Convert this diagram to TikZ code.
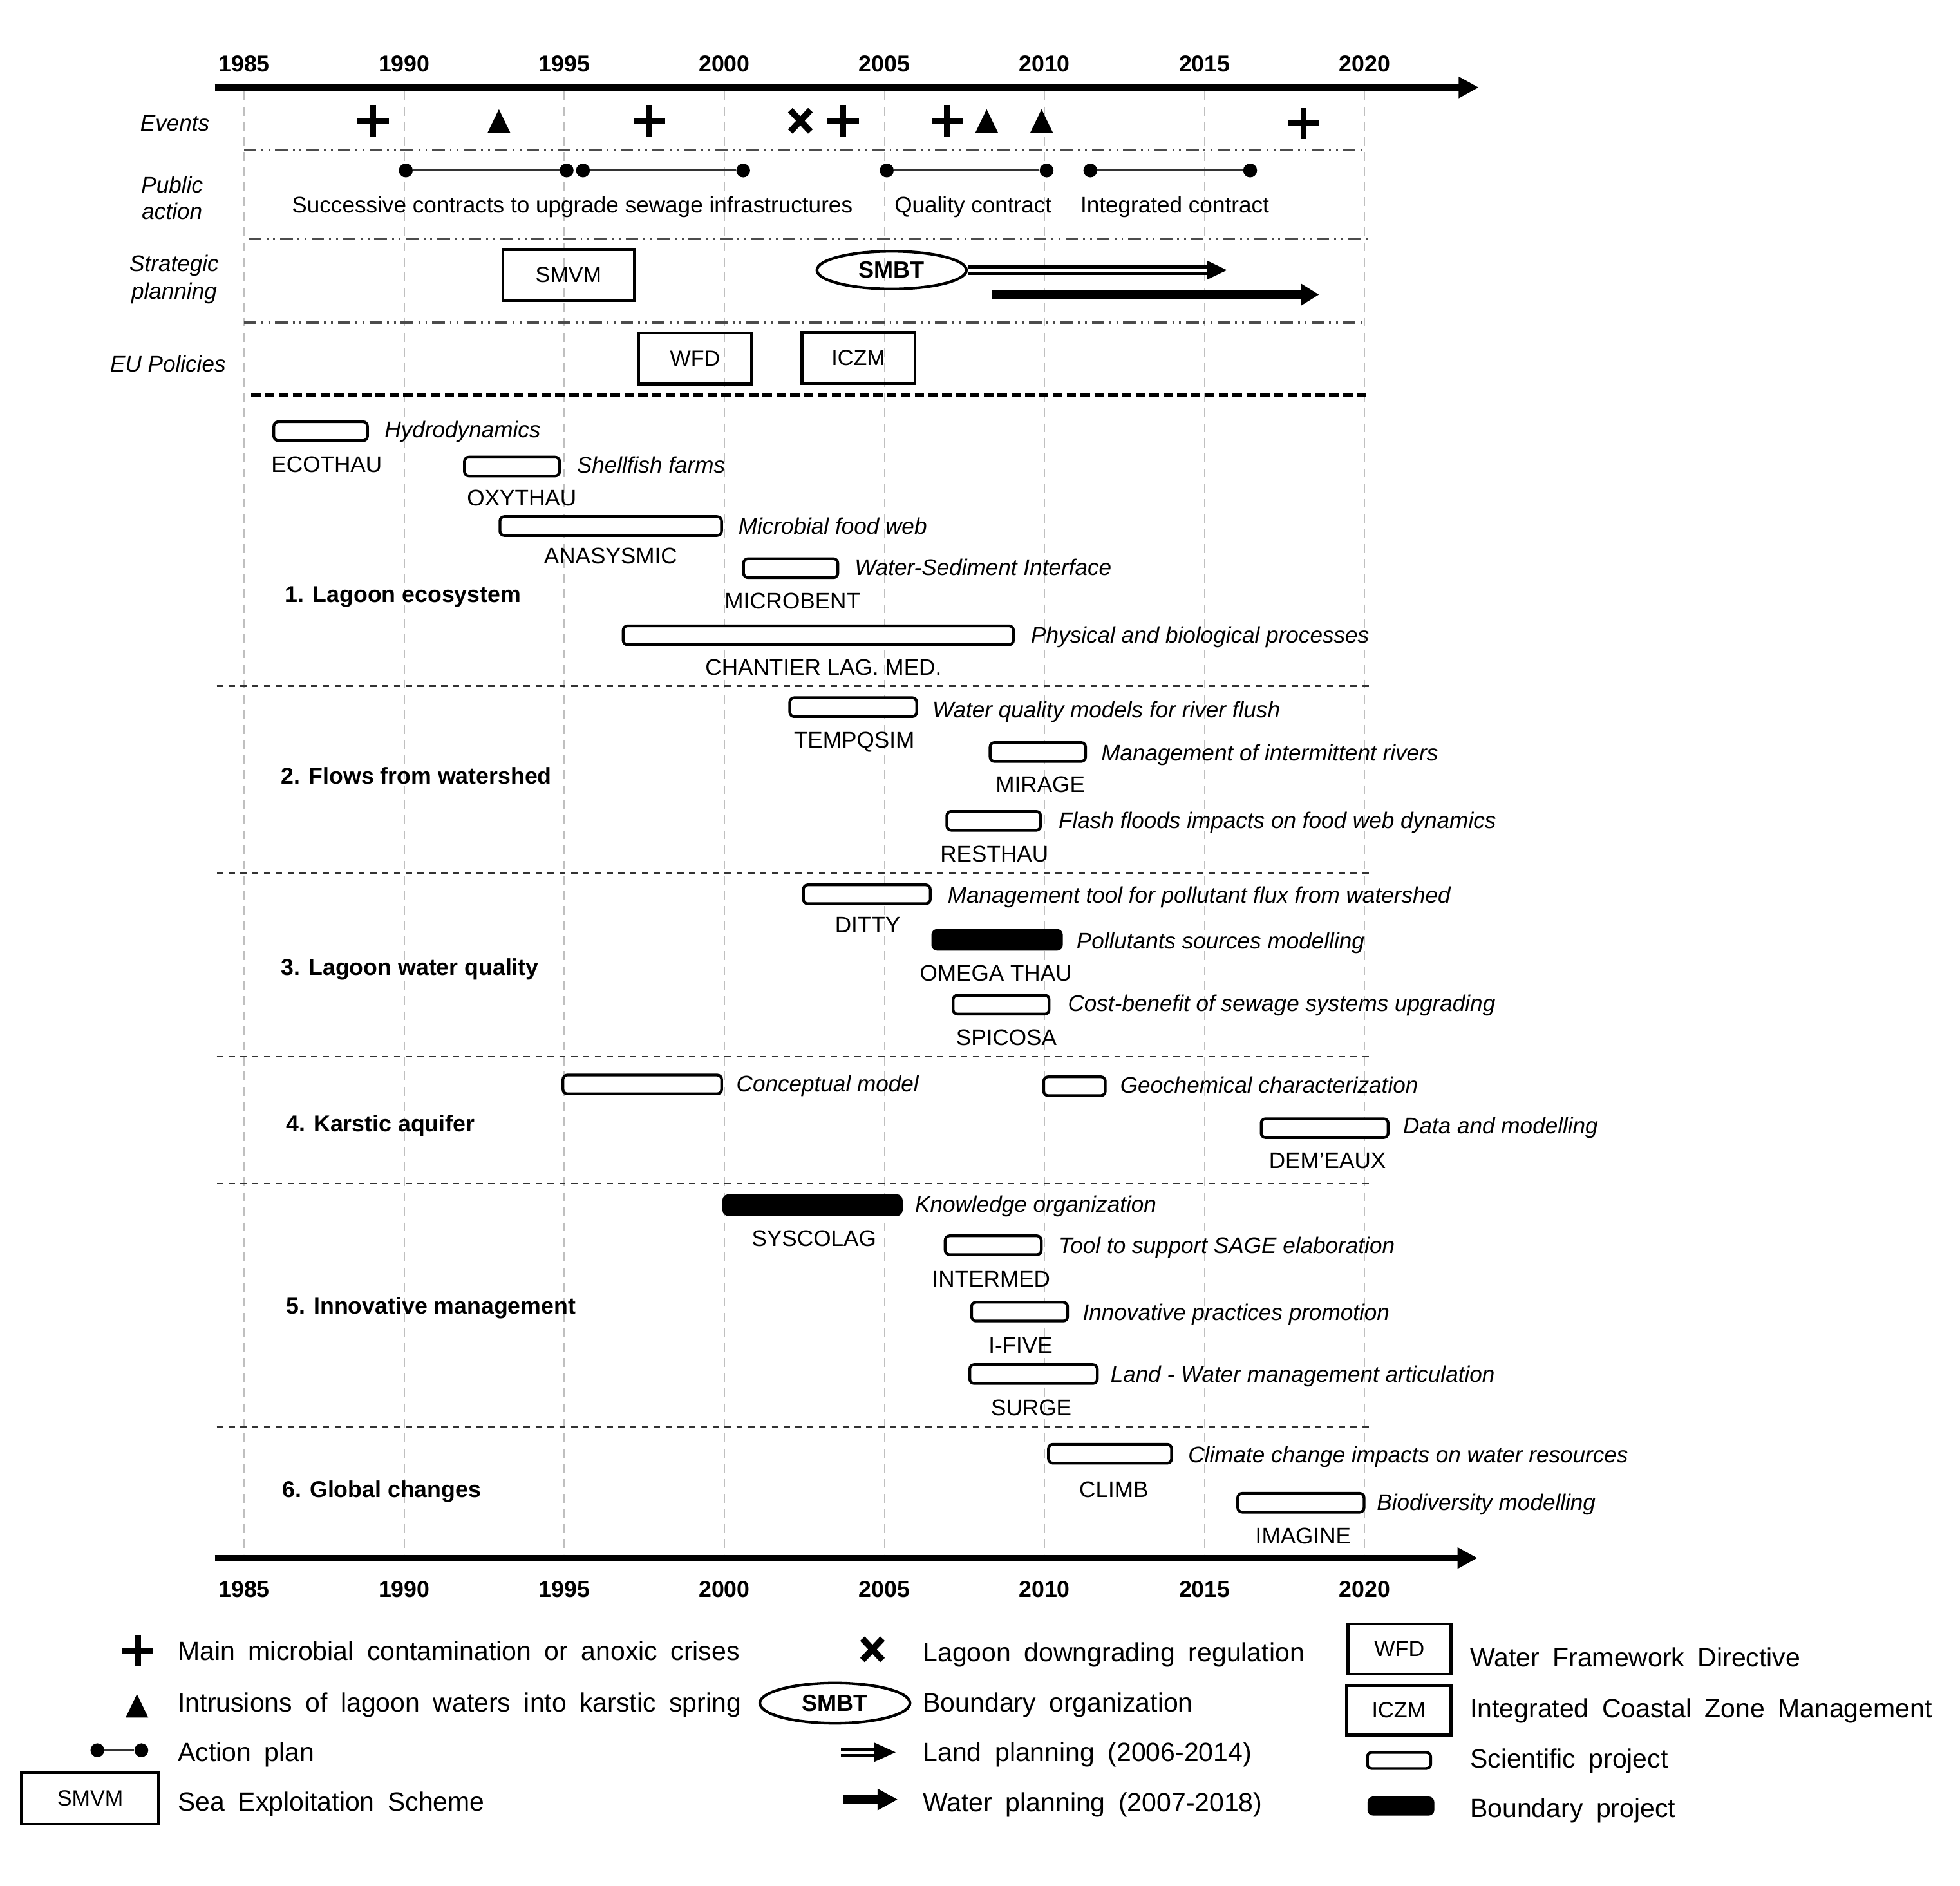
\documentclass[tikz,border=0pt]{standalone}
\usepackage{fontspec}
\setmainfont{Liberation Sans}
\usetikzlibrary{arrows.meta,shapes.geometric}
\tikzset{
  rg/.style={font=\fontsize{18}{21}\selectfont, inner sep=0pt, anchor=base},
  it/.style={font=\itshape\fontsize{18}{21}\selectfont, inner sep=0pt, anchor=base west},
  nm/.style={font=\fontsize{18}{21}\selectfont, inner sep=0pt, anchor=base},
  sec/.style={font=\bfseries\fontsize{18.3}{21}\selectfont, inner sep=0pt, anchor=base west},
  yrlbl/.style={font=\bfseries\fontsize{18.3}{21}\selectfont, inner sep=0pt, anchor=base},
  rowlbl/.style={font=\itshape\fontsize{18}{21}\selectfont, inner sep=0pt, anchor=base},
  leg/.style={font={\fontsize{21}{25}\selectfont\spaceskip=0.5em plus 0.1em\relax}, inner sep=0pt, anchor=base west},
  proj/.style={draw, line width=2.2pt, rounded corners=3.5pt, minimum height=15pt, inner sep=0pt, fill=white},
  bproj/.style={proj, fill=black},
  vgrid/.style={draw=black!25, line width=1pt, dash pattern=on 7pt off 5pt},
  dashdot/.style={draw=black!70, line width=2pt, dash pattern=on 10pt off 4pt on 1.5pt off 4pt on 1.5pt off 4pt},
  heavydash/.style={draw=black, line width=2.8pt, dash pattern=on 7.5pt off 3.5pt},
  secdash/.style={draw=black!80, line width=1.4pt, dash pattern=on 5pt off 4.4pt},
  mainaxis/.style={line width=5pt, -{Triangle[length=16pt,width=16pt]}},
  tbox/.style={draw, line width=2.4pt, inner sep=0pt, font=\fontsize{17.5}{20}\selectfont},
  orgell/.style={ellipse, draw, line width=2.2pt, inner sep=0pt, font=\bfseries\fontsize{18.5}{22}\selectfont},
  pdot/.style={circle, fill=black, inner sep=0pt, minimum size=11pt},
  aline/.style={line width=1.6pt, draw=black!80},
  plusmark/.pic={\draw[line width=4.6pt] (-12.5,0) -- (12.5,0) (0,-12.5) -- (0,12.5);},
  trimark/.pic={\fill (-9,9.3) -- (9,9.3) -- (0,-9.3) -- cycle;},
  xmark/.pic={\draw[line width=5pt] (-8,-8.5) -- (8,8.5) (-8,8.5) -- (8,-8.5);},
}
\begin{document}
\begin{tikzpicture}[x=1pt,y=-1pt]
\fill[white] (0,0) rectangle (1560,1500.6);
\useasboundingbox (0,0) rectangle (1560,1500.6);

% grid and years
\foreach \yy [count=\i] in {1985,1990,1995,2000,2005,2010,2015,2020} {
  \pgfmathsetmacro\xx{194.3+25.48*(\yy-1985)}
  \draw[vgrid] (\xx,73) -- (\xx,1237);
  \node[yrlbl] (yt\i) at (\xx,57) {\yy};
  \node[yrlbl] (yb\i) at (\xx,1271) {\yy};
}

% axes
\coordinate (ta0) at (171,69.6); \coordinate (ta1) at (1177,69.6);
\coordinate (ba0) at (171,1240); \coordinate (ba1) at (1176,1240);
\draw[mainaxis] (ta0) -- (ta1);
\draw[mainaxis] (ba0) -- (ba1);

% separators
\draw[dashdot] (194,119.6) -- (1085,119.6);
\draw[dashdot] (198,190) -- (1089,190);
\draw[dashdot] (194,256.8) -- (1085,256.8);
\draw[heavydash] (200,314.3) -- (1090,314.3);
\foreach \sy in {546,694.6,841,942,1136} {\draw[secdash] (172.5,\sy) -- (1092,\sy);}

% row labels
\node[rowlbl] (lev) at (139.2,104.5) {Events};
\node[rowlbl] (lpa1) at (137,153.3) {Public};
\node[rowlbl] (lpa2) at (137,174.4) {action};
\node[rowlbl] (lsp1) at (138.6,216) {Strategic};
\node[rowlbl] (lsp2) at (138.6,238.2) {planning};
\node[rowlbl] (leu) at (133.7,296.2) {EU Policies};

% events
\pic (ev1) at (296.9,96) {plusmark};
\pic (ev2) at (397.1,96.3) {trimark};
\pic (ev3) at (517,96) {plusmark};
\pic (ev4) at (637,96.2) {xmark};
\pic (ev5) at (671,96) {plusmark};
\pic (ev6) at (753.8,96) {plusmark};
\pic (ev7) at (785.3,96.3) {trimark};
\pic (ev8) at (829,96.3) {trimark};
\pic (ev9) at (1037.5,98.3) {plusmark};

% public action
\node[pdot] (pa1) at (323,135.7) {};
\node[pdot] (pa2) at (451,135.7) {};
\node[pdot] (pa3) at (464,135.7) {};
\node[pdot] (pa4) at (591.5,135.7) {};
\node[pdot] (pa5) at (705.8,135.7) {};
\node[pdot] (pa6) at (833,135.7) {};
\node[pdot] (pa7) at (867.8,135.7) {};
\node[pdot] (pa8) at (995,135.7) {};
\draw[aline] (pa1) -- (pa2);
\draw[aline] (pa3) -- (pa4);
\draw[aline] (pa5) -- (pa6);
\draw[aline] (pa7) -- (pa8);
\node[rg] (tpa1) at (455.5,169.2) {Successive contracts to upgrade sewage infrastructures};
\node[rg] (tpa2) at (774.5,169.2) {Quality contract};
\node[rg] (tpa3) at (935,169.2) {Integrated contract};

% strategic planning
\node[tbox, minimum width=104.5pt, minimum height=40.4pt] (smvm) at (452.5,218.9) {SMVM};
\node[orgell, minimum width=119pt, minimum height=30pt] (smbt) at (709.7,215) {SMBT};
\coordinate (lpend) at (976.5,215);
\draw[line width=2.6pt] ([yshift=2.6pt]smbt.east) -- ([yshift=2.6pt,xshift=-14pt]lpend);
\draw[line width=2.6pt] ([yshift=-2.6pt]smbt.east) -- ([yshift=-2.6pt,xshift=-14pt]lpend);
\fill ([xshift=-16pt,yshift=7.7pt]lpend) -- (lpend) -- ([xshift=-16pt,yshift=-7.7pt]lpend) -- cycle;
\coordinate (wp0) at (789,234.5); \coordinate (wp1) at (1049.8,234.5);
\draw[line width=7.7pt, -{Triangle[length=14pt,width=16.2pt]}] (wp0) -- (wp1);

% EU policies
\node[tbox, minimum width=89.8pt, minimum height=40.8pt] (wfd) at (553.2,285.3) {WFD};
\node[tbox, minimum width=90pt, minimum height=40.3pt] (iczm) at (683.2,285) {ICZM};

% projects
\node[proj, minimum width=74.5pt] (ecothau) at (255.2,343.2) {};
\node[proj, minimum width=75.7pt] (oxythau) at (407.5,371.3) {};
\node[proj, minimum width=176.4pt] (anasysmic) at (486.1,418.7) {};
\node[proj, minimum width=75pt] (microbent) at (629.3,452.2) {};
\node[proj, minimum width=310.6pt] (chantier) at (651.3,505.6) {};
\node[proj, minimum width=101pt] (tempqsim) at (679.1,562.8) {};
\node[proj, minimum width=76pt] (mirage) at (826,598.5) {};
\node[proj, minimum width=74.6pt] (resthau) at (790.9,653.3) {};
\node[proj, minimum width=101pt] (ditty) at (689.9,711.8) {};
\node[bproj, minimum width=102.4pt] (omega) at (793.6,748) {};
\node[proj, minimum width=76.4pt] (spicosa) at (796.8,799.6) {};
\node[proj, minimum width=126.3pt] (concept) at (511.2,863.1) {};
\node[proj, minimum width=49pt] (geochem) at (855.2,864.5) {};
\node[proj, minimum width=101pt] (demeaux) at (1054.3,897.9) {};
\node[bproj, minimum width=141.2pt] (syscolag) at (646.7,959.2) {};
\node[proj, minimum width=76.5pt] (intermed) at (790.5,991.1) {};
\node[proj, minimum width=76.4pt] (ifive) at (811.5,1043.9) {};
\node[proj, minimum width=101.5pt] (surge) at (822.6,1093.6) {};
\node[proj, minimum width=98pt] (climb) at (883.5,1157) {};
\node[proj, minimum width=100.5pt] (imagine) at (1035.4,1196) {};

% descriptions
\node[it] (d1) at (306,348) {Hydrodynamics};
\node[it] (d2) at (458.9,376.5) {Shellfish farms};
\node[it] (d3) at (587.5,425.2) {Microbial food web};
\node[it] (d4) at (680,457.9) {Water-Sediment Interface};
\node[it] (d5) at (820.4,511.5) {Physical and biological processes};
\node[it] (d6) at (741.9,571.1) {Water quality models for river flush};
\node[it] (d7) at (876.3,605.7) {Management of intermittent rivers};
\node[it] (d8) at (842.4,659.2) {Flash floods impacts on food web dynamics};
\node[it] (d9) at (754.1,719) {Management tool for pollutant flux from watershed};
\node[it] (d10) at (856.6,754.9) {Pollutants sources modelling};
\node[it] (d11) at (849.8,805) {Cost-benefit of sewage systems upgrading};
\node[it] (d12) at (585.9,869.1) {Conceptual model};
\node[it] (d13) at (891.4,870) {Geochemical characterization};
\node[it] (d14) at (1116.6,902.3) {Data and modelling};
\node[it] (d15) at (728.1,964.7) {Knowledge organization};
\node[it] (d16) at (842.4,997.7) {Tool to support SAGE elaboration};
\node[it] (d17) at (861.6,1051) {Innovative practices promotion};
\node[it] (d18) at (883.7,1100.1) {Land - Water management articulation};
\node[it] (d19) at (945.5,1163.9) {Climate change impacts on water resources};
\node[it] (d20) at (1095.7,1201.9) {Biodiversity modelling};

% project names
\node[nm] (n1) at (260,376.1) {ECOTHAU};
\node[nm] (n2) at (415.3,402.4) {OXYTHAU};
\node[nm] (n3) at (486,448.6) {ANASYSMIC};
\node[nm] (n4) at (630.7,484.4) {MICROBENT};
\node[nm] (n5) at (655.4,537.4) {CHANTIER LAG. MED.};
\node[nm] (n6) at (679.9,595.1) {TEMPQSIM};
\node[nm] (n7) at (828,630.4) {MIRAGE};
\node[nm] (n8) at (791.4,685.8) {RESTHAU};
\node[nm] (n9) at (690.6,742.4) {DITTY};
\node[nm] (n10) at (792.6,780.7) {OMEGA THAU};
\node[nm] (n11) at (801,832.2) {SPICOSA};
\node[nm] (n12) at (1056.5,929.9) {DEM’EAUX};
\node[nm] (n13) at (647.9,992) {SYSCOLAG};
\node[nm] (n14) at (788.9,1024.1) {INTERMED};
\node[nm] (n15) at (812.3,1077) {I-FIVE};
\node[nm] (n16) at (820.8,1126.5) {SURGE};
\node[nm] (n17) at (886.5,1191.9) {CLIMB};
\node[nm] (n18) at (1037.2,1228.5) {IMAGINE};

% sections
\node[sec] (s1) at (226.7,479.5) {1. Lagoon ecosystem};
\node[sec] (s2) at (223.6,623.9) {2. Flows from watershed};
\node[sec] (s3) at (223.5,775.9) {3. Lagoon water quality};
\node[sec] (s4) at (227.5,900.9) {4. Karstic aquifer};
\node[sec] (s5) at (227.5,1045.7) {5. Innovative management};
\node[sec] (s6) at (224.4,1192) {6. Global changes};

% legend left
\pic (lg1) at (109.7,1313.8) {plusmark};
\pic (lg2) at (109,1357.7) {trimark};
\node[pdot] (lgd1) at (77.5,1393) {};
\node[pdot] (lgd2) at (112.5,1393) {};
\draw[aline] (lgd1) -- (lgd2);
\node[tbox, minimum width=109pt, minimum height=41pt] (lgsmvm) at (71.8,1431.3) {SMVM};
\node[leg] (lt1) at (141.5,1321.5) {Main microbial contamination or anoxic crises};
\node[leg] (lt2) at (141.5,1362.5) {Intrusions of lagoon waters into karstic spring};
\node[leg] (lt3) at (141.5,1401.7) {Action plan};
\node[leg] (lt4) at (141.5,1441.5) {Sea Exploitation Scheme};

% legend middle
\pic (lg3) at (694.4,1312.7) {xmark};
\node[orgell, minimum width=119.5pt, minimum height=32pt] (lgsmbt) at (664.5,1355.5) {SMBT};
\coordinate (lla0) at (669.3,1394.6); \coordinate (lla1) at (712.8,1394.6);
\draw[line width=2.6pt] ([yshift=2.6pt]lla0) -- ([yshift=2.6pt,xshift=-14pt]lla1);
\draw[line width=2.6pt] ([yshift=-2.6pt]lla0) -- ([yshift=-2.6pt,xshift=-14pt]lla1);
\fill ([xshift=-17pt,yshift=7.7pt]lla1) -- (lla1) -- ([xshift=-17pt,yshift=-7.7pt]lla1) -- cycle;
\coordinate (lwa0) at (671.1,1432.2); \coordinate (lwa1) at (714.5,1432.2);
\draw[line width=8pt, -{Triangle[length=16pt,width=16pt]}] (lwa0) -- (lwa1);
\node[leg] (lt5) at (734.5,1322.5) {Lagoon downgrading regulation};
\node[leg] (lt6) at (734.5,1362.5) {Boundary organization};
\node[leg] (lt7) at (734.5,1402.1) {Land planning (2006-2014)};
\node[leg] (lt8) at (734.5,1442.1) {Water planning (2007-2018)};

% legend right
\node[tbox, minimum width=82pt, minimum height=40pt] (lgwfd) at (1113.8,1312.5) {WFD};
\node[tbox, minimum width=83pt, minimum height=39pt] (lgiczm) at (1113.3,1361.2) {ICZM};
\node[proj, minimum width=50.4pt, minimum height=12.8pt] (lgsci) at (1113.5,1401.1) {};
\node[bproj, minimum width=51pt, minimum height=13pt] (lgbnd) at (1115,1437.4) {};
\node[leg] (lt9) at (1169.9,1326.7) {Water Framework Directive};
\node[leg] (lt10) at (1169.9,1367.2) {Integrated Coastal Zone Management};
\node[leg] (lt11) at (1169.9,1406.9) {Scientific project};
\node[leg] (lt12) at (1169.9,1446.4) {Boundary project};
\end{tikzpicture}
\end{document}
